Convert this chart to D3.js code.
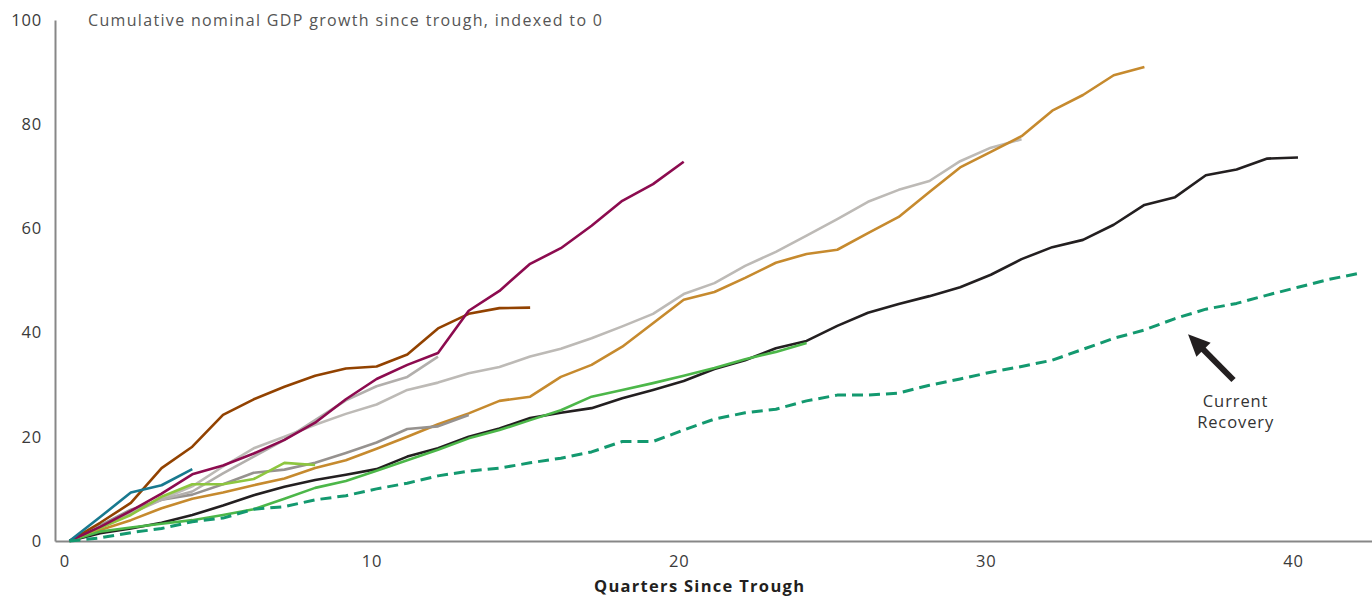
<!DOCTYPE html>
<html>
<head>
<meta charset="utf-8">
<script src="https://cdn.jsdelivr.net/npm/d3@7"></script>
<style>
  html, body { margin: 0; padding: 0; background: #fff; }
  svg { display: block; }
</style>
</head>
<body>
<svg id="chart" width="1372" height="597"></svg>
<script>
// ---------- DATA (values indexed by quarter since trough: 0,1,2,...) ----------
const xTicks = [0, 10, 20, 30, 40];
const yTicks = [0, 20, 40, 60, 80, 100];
const titleText = "Cumulative nominal GDP growth since trough, indexed to 0";
const xAxisTitle = "Quarters Since Trough";
const annotationLines = ["Current", "Recovery"];

const seriesTeal = [0, 4.6, 9.3, 10.7, 13.8];
const seriesBrown = [0, 3.5, 7.3, 14.0, 18.1, 24.2, 27.2, 29.6, 31.7, 33.1, 33.5, 35.8, 40.8, 43.6, 44.7, 44.8];
const seriesMagenta = [0, 2.7, 5.8, 9.1, 12.8, 14.5, 16.8, 19.4, 22.7, 27.2, 31.1, 33.8, 36.1, 44.2, 48.0, 53.2, 56.2, 60.5, 65.3, 68.5, 72.8];
const seriesGrayLong = [0, 3.0, 5.5, 8.0, 10.5, 14.3, 17.8, 20.0, 22.3, 24.4, 26.2, 29.0, 30.4, 32.2, 33.4, 35.4, 36.9, 38.9, 41.2, 43.6, 47.4, 49.5, 52.8, 55.5, 58.6, 61.8, 65.1, 67.4, 69.1, 72.9, 75.5, 77.1];
const seriesGrayShort = [0, 2.8, 5.3, 7.9, 9.5, 13.0, 16.2, 19.4, 23.2, 27.0, 29.7, 31.5, 35.4];
const seriesGrayDark = [0, 3.0, 6.0, 7.9, 8.9, 10.9, 13.1, 13.7, 15.0, 16.9, 18.9, 21.5, 22.0, 24.2];
const seriesGold = [0, 2.1, 4.0, 6.3, 8.1, 9.3, 10.7, 12.0, 14.0, 15.5, 17.7, 20.0, 22.4, 24.5, 26.9, 27.7, 31.5, 33.8, 37.3, 41.8, 46.3, 47.8, 50.5, 53.4, 55.1, 55.9, 59.1, 62.2, 67.0, 71.7, 74.7, 77.7, 82.6, 85.6, 89.4, 91.0];
const seriesBlack = [0, 1.5, 2.4, 3.5, 5.0, 6.8, 8.8, 10.4, 11.7, 12.7, 13.8, 16.2, 17.8, 20.0, 21.6, 23.6, 24.6, 25.5, 27.4, 29.0, 30.7, 33.0, 34.7, 37.0, 38.4, 41.3, 43.8, 45.5, 47.0, 48.7, 51.1, 54.1, 56.4, 57.8, 60.7, 64.5, 66.0, 70.2, 71.3, 73.4, 73.6];
const seriesGreen = [0, 1.8, 2.6, 3.3, 4.0, 5.0, 6.1, 8.1, 10.2, 11.5, 13.5, 15.5, 17.5, 19.7, 21.3, 23.2, 25.1, 27.7, 29.0, 30.3, 31.7, 33.2, 34.9, 36.3, 38.0];
const seriesLime = [0, 2.5, 5.0, 8.5, 10.9, 10.9, 11.9, 15.0, 14.6];
const seriesCurrent = [0, 0.6, 1.6, 2.4, 3.7, 4.4, 6.1, 6.6, 7.9, 8.7, 10.0, 11.1, 12.5, 13.4, 14.0, 15.0, 15.9, 17.1, 19.1, 19.1, 21.3, 23.4, 24.6, 25.3, 26.9, 28.0, 28.0, 28.4, 29.9, 31.1, 32.4, 33.5, 34.7, 36.8, 38.9, 40.5, 42.7, 44.5, 45.6, 47.2, 48.7, 50.2, 51.4];

// annotation arrow in data units: [quarter, value]
const arrowTail = [37.9, 30.9];
const arrowTip = [36.42, 39.7];
const annotationAnchor = [37.97, 26.9];

// ---------- STYLE ----------
const seriesDefs = [
  { values: seriesGrayLong, color: "#bdbab6", dash: null },
  { values: seriesGold, color: "#c68a2e", dash: null },
  { values: seriesBlack, color: "#231f20", dash: null },
  { values: seriesGreen, color: "#4cb749", dash: null },
  { values: seriesGrayDark, color: "#96928f", dash: null },
  { values: seriesGrayShort, color: "#b2afac", dash: null },
  { values: seriesLime, color: "#8dc63f", dash: null },
  { values: seriesBrown, color: "#924200", dash: null },
  { values: seriesMagenta, color: "#8c0b4f", dash: null },
  { values: seriesTeal, color: "#18798f", dash: null },
  { values: seriesCurrent, color: "#13996f", dash: "11,6" }
];

const svg = d3.select("#chart");
const font = "'Open Sans', 'Noto Sans', sans-serif";

const x = d3.scaleLinear().domain([-0.47, 42.41]).range([55, 1372]);
const y = d3.scaleLinear().domain([0, 100]).range([541, 20]);

// axes
const xAxis = d3.axisBottom(x).tickValues(xTicks).tickSize(0).tickPadding(14).tickFormat(d3.format("d"));
const gx = svg.append("g").attr("transform", `translate(0,${y(0)})`).call(xAxis);
gx.select(".domain").attr("stroke", "#878787").attr("stroke-width", 2);
gx.selectAll("text").attr("dx", -5).attr("font-family", font).attr("font-size", 16.5).attr("letter-spacing", 0.8).attr("fill", "#3a3a3a");

const yAxis = d3.axisLeft(y).tickValues(yTicks).tickSize(0).tickPadding(13).tickFormat(d3.format("d"));
const gy = svg.append("g").attr("transform", `translate(55,0)`).call(yAxis);
gy.select(".domain").attr("stroke", "#878787").attr("stroke-width", 2);
gy.selectAll("text").attr("font-family", font).attr("font-size", 16.5).attr("letter-spacing", 0.8).attr("fill", "#3a3a3a");

// lines
const line = d3.line().x((d, i) => x(i)).y(d => y(d));
svg.append("g").selectAll("path")
  .data(seriesDefs)
  .join("path")
  .attr("d", d => line(d.values))
  .attr("fill", "none")
  .attr("stroke", d => d.color)
  .attr("stroke-width", d => d.dash ? 3 : 2.6)
  .attr("stroke-dasharray", d => d.dash)
  .attr("stroke-linejoin", "round");

// title
svg.append("text")
  .attr("x", 88).attr("y", 26)
  .attr("font-family", font).attr("font-size", 16).attr("font-weight", 400)
  .attr("textLength", 514).attr("lengthAdjust", "spacing")
  .attr("fill", "#555")
  .text(titleText);

// x axis title
svg.append("text")
  .attr("x", 699).attr("y", 592)
  .attr("text-anchor", "middle")
  .attr("font-family", font).attr("font-size", 16.5).attr("font-weight", 700)
  .attr("textLength", 210).attr("lengthAdjust", "spacing")
  .attr("fill", "#231f20")
  .text(xAxisTitle);

// annotation arrow
const tx = x(arrowTail[0]), ty = y(arrowTail[1]);
const hx = x(arrowTip[0]), hy = y(arrowTip[1]);
const ang = Math.atan2(hy - ty, hx - tx);
const headLen = 22, headHalf = 10;
const bx = hx - headLen * Math.cos(ang), by = hy - headLen * Math.sin(ang);
svg.append("line")
  .attr("x1", tx).attr("y1", ty).attr("x2", bx + 3 * Math.cos(ang)).attr("y2", by + 3 * Math.sin(ang))
  .attr("stroke", "#231f20").attr("stroke-width", 6);
svg.append("polygon")
  .attr("points", [
    [hx, hy],
    [bx + headHalf * Math.sin(ang), by - headHalf * Math.cos(ang)],
    [bx - headHalf * Math.sin(ang), by + headHalf * Math.cos(ang)]
  ].map(p => p.join(",")).join(" "))
  .attr("fill", "#231f20");

svg.append("g").selectAll("text")
  .data(annotationLines)
  .join("text")
  .attr("x", x(annotationAnchor[0]))
  .attr("y", (d, i) => y(annotationAnchor[1]) + 6 + i * 21)
  .attr("text-anchor", "middle")
  .attr("font-family", font).attr("font-size", 16.5)
  .attr("letter-spacing", 0.9)
  .attr("fill", "#333")
  .text(d => d);
</script>
</body>
</html>
